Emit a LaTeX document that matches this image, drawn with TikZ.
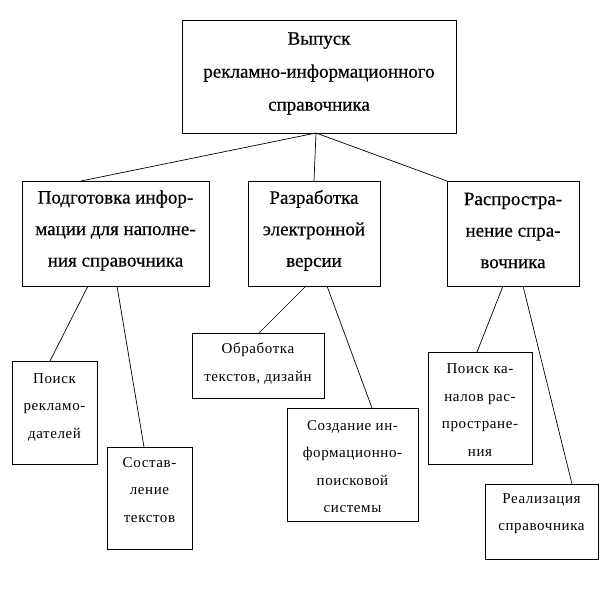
\documentclass[tikz,border=0pt]{standalone}
\usepackage{fontspec}
\setmainfont{Liberation Serif}
\newfontfamily\bigfont[FakeBold=0.5]{Liberation Serif}
\newfontfamily\spacedfont[LetterSpace=4]{Liberation Serif}
\usetikzlibrary{calc}
\tikzset{
  box/.style={draw, line width=0.9pt, inner sep=0pt, outer sep=0pt},
  toptext/.style={align=center, inner sep=0pt, font=\bigfont\fontsize{19}{33}\selectfont},
  bigtext/.style={align=center, inner sep=0pt, font=\bigfont\fontsize{19}{31.5}\selectfont},
  smalltext/.style={align=center, inner sep=0pt, font=\spacedfont\fontsize{15}{27.5}\selectfont},
  link/.style={line width=0.7pt}
}
\begin{document}
\begin{tikzpicture}[x=1pt,y=-1pt]
\useasboundingbox[fill=white] (0,0) rectangle (616,607);
% level 1
\node[box,minimum width=274pt,minimum height=113pt] (top) at (319,76.5) {};
\node[toptext] (topt) at ([yshift=3pt]top.center)
  {Выпуск\\рекламно-информационного\\справочника};
% level 2
\node[box,minimum width=187pt,minimum height=105pt] (b1) at (115.5,233.5) {};
\node[bigtext] (b1t) at ([yshift=3pt]b1.center)
  {Подготовка инфор-\\мации для наполне-\\ния справочника};
\node[box,minimum width=132pt,minimum height=105pt] (b2) at (314,233.5) {};
\node[bigtext] (b2t) at ([yshift=3pt]b2.center)
  {Разработка\\электронной\\версии};
\node[box,minimum width=132pt,minimum height=105pt] (b3) at (513,233.5) {};
\node[bigtext] (b3t) at ([yshift=3pt]b3.center)
  {Распростра-\\нение спра-\\вочника};
% level 3
\node[box,minimum width=85pt,minimum height=103pt] (c1) at (54.5,412.5) {};
\node[smalltext] (c1t) at ([yshift=5pt]c1.center)
  {Поиск\\рекламо-\\дателей};
\node[box,minimum width=85pt,minimum height=102pt] (c2) at (149.5,498) {};
\node[smalltext] (c2t) at ([yshift=8pt]c2.center)
  {Состав-\\ление\\текстов};
\node[box,minimum width=132pt,minimum height=65pt] (c3) at (258,365.5) {};
\node[smalltext] (c3t) at ([yshift=2pt]c3.center)
  {Обработка\\текстов, дизайн};
\node[box,minimum width=131pt,minimum height=113pt] (c4) at (352.5,464.5) {};
\node[smalltext] (c4t) at ([yshift=-2pt]c4.center)
  {Создание ин-\\формационно-\\поисковой\\системы};
\node[box,minimum width=104pt,minimum height=112pt] (c5) at (480,408) {};
\node[smalltext] (c5t) at ([yshift=-2pt]c5.center)
  {Поиск ка-\\налов рас-\\простране-\\ния};
\node[box,minimum width=113pt,minimum height=75pt] (c6) at (541.5,521.5) {};
\node[smalltext] (c6t) at ([yshift=8pt]c6.center)
  {Реализация\\справочника};
% connectors
\coordinate (j) at ([xshift=-3pt]top.south);
\draw[link] (j) -- ([xshift=-34.5pt]b1.north);
\draw[link] (j) -- (b2.north);
\draw[link] (j) -- (b3.north west);
\draw[link] ([xshift=-27.5pt]b1.south) -- ([xshift=-4.5pt]c1.north);
\draw[link] ([xshift=1.5pt]b1.south) -- ([xshift=-5.5pt]c2.north);
\draw[link] ([xshift=-8pt]b2.south) -- ([xshift=1pt]c3.north);
\draw[link] ([xshift=13pt]b2.south) -- ([xshift=19.5pt]c4.north);
\draw[link] ([xshift=-10pt]b3.south) -- ([xshift=-3pt]c5.north);
\draw[link] ([xshift=10pt]b3.south) -- ([xshift=30.5pt]c6.north);
\end{tikzpicture}
\end{document}
